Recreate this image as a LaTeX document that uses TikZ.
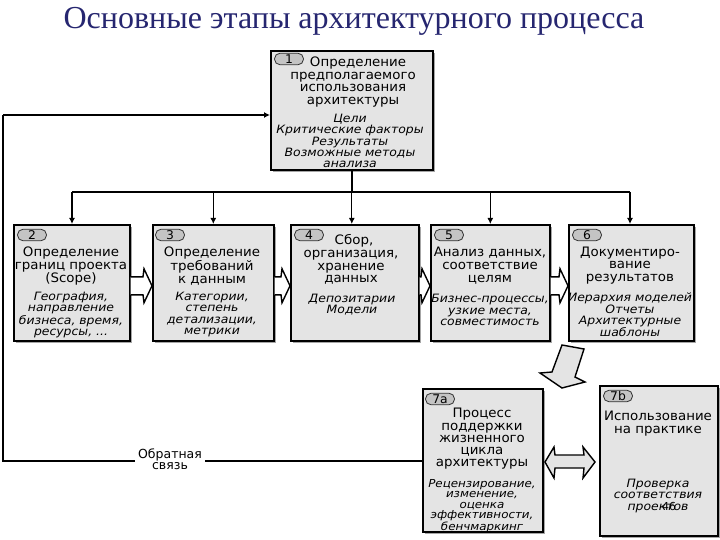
\documentclass[tikz,border=0pt]{standalone}
\usepackage{fontspec}
\setmainfont{DejaVu Sans}
\newfontfamily\titlefont{Liberation Serif}
\newfontfamily\headfont[FakeStretch=1.03]{DejaVu Sans}
\newfontfamily\italfont[FakeStretch=1.08]{DejaVu Sans}
\usetikzlibrary{calc,shadows,arrows.meta}
\definecolor{boxfill}{HTML}{E4E4E4}
\definecolor{badgefill}{HTML}{C4C4C4}
\definecolor{titleblue}{HTML}{262670}
\begin{document}
\begin{tikzpicture}[x=1pt,y=-1pt,
  stagebox/.style={draw=black, line width=1.6pt, fill=boxfill,
    drop shadow={shadow xshift=2pt, shadow yshift=-2pt, fill=black!35, opacity=1},
    inner sep=0pt, anchor=north west},
  badge/.style={draw=black!80, line width=0.8pt, fill=badgefill, rounded corners=5.5pt,
    minimum width=29pt, minimum height=11.5pt, inner sep=0pt, font=\headfont\fontsize{12}{12}\selectfont},
  head/.style={align=center, font=\headfont\fontsize{13}{12.8}\selectfont, inner sep=0pt},
  ital/.style={align=center, font=\italfont\itshape\fontsize{11.5}{11.2}\selectfont, inner sep=0pt},
  feed/.style={line width=1.3pt},
  distr/.style={line width=2pt},
  drop/.style={line width=1.3pt, -{Latex[length=6pt,width=6pt]}},
  chev/.style={draw=black, line width=1.4pt, line join=miter},
  bigarrow/.style={fill=boxfill, draw=black, line width=1.4pt, line join=miter},
]
\useasboundingbox (0,0) rectangle (720,540);
\fill[white] (0,0) rectangle (720,540);

% title
\node[font=\titlefont\fontsize{32}{32}\selectfont, text=titleblue, inner sep=0pt] (title) at (354,21) {Основные этапы архитектурного процесса};

% boxes
\node[stagebox, minimum width=162pt, minimum height=119pt] (b1) at (270,50) {};
\node[stagebox, minimum width=116pt, minimum height=116pt] (b2) at (13,224) {};
\node[stagebox, minimum width=121pt, minimum height=116pt] (b3) at (152,224) {};
\node[stagebox, minimum width=128pt, minimum height=116pt] (b4) at (290,224) {};
\node[stagebox, minimum width=119pt, minimum height=116pt] (b5) at (430,224) {};
\node[stagebox, minimum width=125pt, minimum height=116pt] (b6) at (568,224) {};
\node[stagebox, minimum width=120pt, minimum height=143pt] (b7a) at (422,388) {};
\node[stagebox, minimum width=118pt, minimum height=150pt] (b7b) at (599,385) {};

% badges
\node[badge] (n1) at ($(b1.north west)+(19,9)$) {1};
\node[badge] (n2) at ($(b2.north west)+(19,11)$) {2};
\node[badge] (n3) at ($(b3.north west)+(18,11)$) {3};
\node[badge] (n4) at ($(b4.north west)+(19,11)$) {4};
\node[badge] (n5) at ($(b5.north west)+(19,11)$) {5};
\node[badge] (n6) at ($(b6.north west)+(19,11)$) {6};
\node[badge] (n7a) at ($(b7a.north west)+(18,11)$) {7a};
\node[badge] (n7b) at ($(b7b.north west)+(19,11)$) {7b};

% texts
\node[head] (h1) at (353,82) {\hspace*{10pt}Определение\\предполагаемого\\использования\\архитектуры};
\node[ital] (i1) at (350,141) {Цели\\Критические факторы\\Результаты\\Возможные методы\\анализа};
\node[head] (h2) at (71,266) {Определение\\границ проекта\\(Scope)};
\node[ital] (i2) at (71,315) {География,\\направление\\бизнеса, время,\\ресурсы, ...};
\node[head] (h3) at (212,266) {Определение\\требований\\к данным};
\node[ital] (i3) at (212,314.5) {Категории,\\степень\\детализации,\\метрики};
\node[head] (h4) at (351,259.5) {\hspace*{6pt}Сбор,\\организация,\\хранение\\данных};
\node[ital] (i4) at (352,305) {Депозитарии\\Модели};
\node[head] (h5) at (490,265.5) {Анализ данных,\\соответствие\\целям};
\node[ital] (i5) at (490,310) {Бизнес-процессы,\\узкие места,\\совместимость};
\node[head] (h6) at (630,265.5) {Документиро-\\вание\\результатов};
\node[ital] (i6) at (630,315) {Иерархия моделей\\Отчеты\\Архитектурные\\шаблоны};
\node[head, font=\headfont\fontsize{13}{12.2}\selectfont] (h7a) at (482,439) {Процесс\\поддержки\\жизненного\\цикла\\архитектуры};
\node[ital, font=\italfont\itshape\fontsize{11}{10.6}\selectfont] (i7a) at (482,506) {Рецензирование,\\изменение,\\оценка\\эффективности,\\бенчмаркинг};
\node[head] (h7b) at (658,423.5) {Использование\\на практике};
\node[ital] (i7b) at (658,496) {Проверка\\соответствия\\проектов};
\node[font=\fontsize{11}{11}\selectfont, inner sep=0pt] (pg) at (669,506) {46};

% distribution from box 1
\coordinate (dl) at (72,192);
\coordinate (dr) at (630,192);
\draw[distr] (b1.south) -- (b1.south |- dl);
\draw[distr] (dl) -- (dr);
\draw[drop] (dl) -- (dl |- b2.north);
\draw[drop] (b3.north |- dl) -- (b3.north);
\draw[drop] (b1.south |- dl) -- (b1.south |- b4.north);
\draw[drop] (b5.north |- dl) -- (b5.north);
\draw[drop] (dr) -- (dr |- b6.north);

% chevron arrows between stages
\newcommand{\chevarrow}[2]{%
  \fill[white] ($(#1.east)+(0,-6)$) -- ($(#2.west)+(-9,-6)$) -- ($(#2.west)+(-8,-14)$) -- ($(#2.west)+(0,3)$) -- ($(#2.west)+(-8,20)$) -- ($(#2.west)+(-9,12)$) -- ($(#1.east)+(0,12)$) -- cycle;
  \draw[chev] ($(#1.east)+(0,-6)$) -- ($(#2.west)+(-9,-6)$) -- ($(#2.west)+(-8,-14)$) -- ($(#2.west)+(0,3)$) -- ($(#2.west)+(-8,20)$) -- ($(#2.west)+(-9,12)$) -- ($(#1.east)+(0,12)$);}
\chevarrow{b2}{b3}
\chevarrow{b3}{b4}
\chevarrow{b4}{b5}
\chevarrow{b5}{b6}

% big down-left arrow
\draw[bigarrow] (562,345) -- (584,349) -- (575,377) -- (585,382) -- (562,388) -- (540,373) -- (552,372) -- cycle;

% double arrow between 7a and 7b
\draw[bigarrow] (545,462) -- (554,447) -- (555,455) -- (584,455) -- (583,447) -- (595,462) -- (583,478) -- (584,468) -- (555,468) -- (554,478) -- cycle;

% feedback loop
\coordinate (fbL) at (3,461);
\coordinate (fbT) at (3,115);
\draw[feed] (b7a.west |- fbL) -- (fbL) -- (fbT);
\draw[feed, -{Latex[length=6pt,width=6pt]}] (fbT) -- (b1.west |- fbT);
\node[fill=white, inner sep=3pt, align=center, font=\fontsize{12.5}{11}\selectfont] (fbl) at (170,459) {Обратная\\связь};
\end{tikzpicture}
\end{document}
